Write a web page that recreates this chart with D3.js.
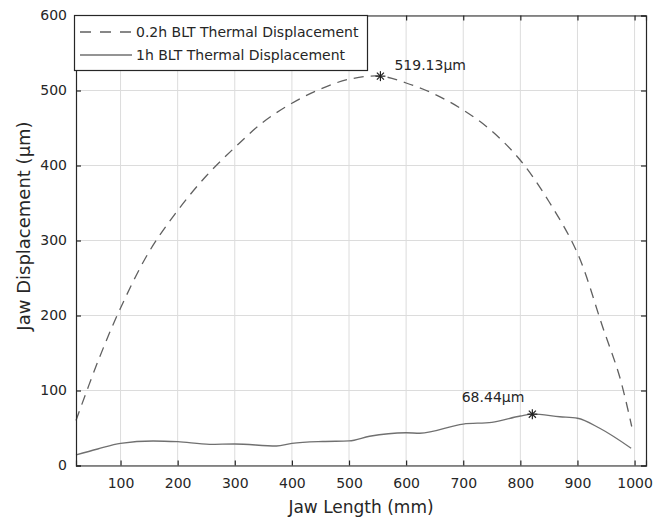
<!DOCTYPE html>
<html>
<head>
<meta charset="utf-8">
<script src="https://cdn.jsdelivr.net/npm/d3@7"></script>
<style>
  body { margin: 0; background: #fff; }
  text { font-family: "DejaVu Sans", "Liberation Sans", Arial, sans-serif; fill: #262626; }
</style>
</head>
<body>
<div id="chart"></div>
<script>
(function () {
// series
var shortLength = [22, 61, 100, 150, 200, 250, 300, 350, 400, 450, 500, 555, 600, 650, 700, 750, 800, 850, 900, 944, 974, 995];
var shortDisp = [60, 140, 210, 285, 340, 386, 424, 458, 483, 502, 515, 519.13, 510, 495, 474, 446, 407, 352, 283, 185, 118, 52];
var longLength = [22, 60, 100, 157, 200, 256, 300, 373, 400, 454, 500, 536, 600, 624, 700, 750, 800, 821, 869, 900, 939, 994];
var longDisp = [14, 22, 29.6, 32.7, 31.7, 28.2, 28.7, 26, 29.6, 32, 32.7, 39, 43.7, 43, 55.3, 57.6, 66, 68.44, 65, 63, 49.6, 23];
var seriesNames = ['0.2h BLT Thermal Displacement', '1h BLT Thermal Displacement'];
var peakLabels = ['519.13\u03bcm', '68.44\u03bcm'];
var xTicks = [100, 200, 300, 400, 500, 600, 700, 800, 900, 1000];
var yTicks = [0, 100, 200, 300, 400, 500, 600];

var W = 669, H = 522;
var plotLeft = 76, plotRight = 646, plotTop = 15.5, plotBottom = 465.5;
var fontFamily = '"DejaVu Sans", "Liberation Sans", Arial, sans-serif';

var svg = d3.select('#chart').append('svg')
  .attr('width', W).attr('height', H);

var x = d3.scaleLinear().domain([22, 1020]).range([plotLeft, plotRight]);
var y = d3.scaleLinear().domain([0, 600]).range([plotBottom, plotTop]);

// grid
var grid = svg.append('g');
grid.selectAll('.gx').data(xTicks).enter().append('line')
  .attr('x1', function(d) { return x(d); }).attr('x2', function(d) { return x(d); })
  .attr('y1', plotTop).attr('y2', plotBottom)
  .style('stroke', '#dcdcdc').style('stroke-width', 1);
grid.selectAll('.gy').data(yTicks).enter().append('line')
  .attr('x1', plotLeft).attr('x2', plotRight)
  .attr('y1', function(d) { return y(d); }).attr('y2', function(d) { return y(d); })
  .style('stroke', '#dcdcdc').style('stroke-width', 1);

// curves
var shortLine = d3.line()
  .x(function(d, i) { return x(shortLength[i]); })
  .y(function(d) { return y(d); })
  .curve(d3.curveCatmullRom.alpha(0.5));
var longLine = d3.line()
  .x(function(d, i) { return x(longLength[i]); })
  .y(function(d) { return y(d); })
  .curve(d3.curveMonotoneX);

svg.append('path').datum(shortDisp)
  .attr('d', shortLine)
  .style('fill', 'none').style('stroke', '#606060').style('stroke-width', 1.3)
  .style('stroke-dasharray', '10,7');
svg.append('path').datum(longDisp)
  .attr('d', longLine)
  .style('fill', 'none').style('stroke', '#707070').style('stroke-width', 1.3);

// peak markers
function asterisk(g, cx, cy) {
  var r = 5;
  for (var k = 0; k < 4; k++) {
    var a = k * Math.PI / 4;
    g.append('line')
      .attr('x1', cx - r * Math.cos(a)).attr('y1', cy - r * Math.sin(a))
      .attr('x2', cx + r * Math.cos(a)).attr('y2', cy + r * Math.sin(a))
      .style('stroke', '#222').style('stroke-width', 1.2);
  }
}
var marks = svg.append('g');
asterisk(marks, x(555), y(519.13));
asterisk(marks, x(821), y(68.44));
marks.append('text')
  .attr('x', x(555) + 14).attr('y', y(519.13) - 6)
  .style('font-size', '14px').text(peakLabels[0]);
marks.append('text')
  .attr('x', x(821) - 8).attr('y', y(68.44) - 12)
  .attr('text-anchor', 'end')
  .style('font-size', '14px').text(peakLabels[1]);

// axes
var axisColor = '#262626';
var xAxis = svg.append('g').attr('transform', 'translate(0,' + plotBottom + ')')
  .call(d3.axisBottom(x).tickValues(xTicks).tickSize(-5).tickPadding(13).tickFormat(d3.format('d')));
var yAxis = svg.append('g').attr('transform', 'translate(' + plotLeft + ',0)')
  .call(d3.axisLeft(y).tickValues(yTicks).tickSize(-5).tickPadding(9).tickFormat(d3.format('d')));
var xTop = svg.append('g').attr('transform', 'translate(0,' + plotTop + ')')
  .call(d3.axisTop(x).tickValues(xTicks).tickSize(-5).tickFormat(''));
var yRight = svg.append('g').attr('transform', 'translate(' + plotRight + ',0)')
  .call(d3.axisRight(y).tickValues(yTicks).tickSize(-5).tickFormat(''));
[xAxis, yAxis, xTop, yRight].forEach(function(a) {
  a.select('.domain').style('stroke', axisColor).style('stroke-width', 1.2);
  a.selectAll('.tick line').style('stroke', axisColor).style('stroke-width', 1.2);
  a.selectAll('.tick text').style('font-size', '14px')
    .style('font-family', fontFamily).style('fill', axisColor);
});

svg.append('text')
  .attr('x', (plotLeft + plotRight) / 2).attr('y', 513)
  .attr('text-anchor', 'middle').style('font-size', '17px')
  .text('Jaw Length (mm)');
svg.append('text')
  .attr('transform', 'translate(30,' + 226 + ') rotate(-90)')
  .attr('text-anchor', 'middle').style('font-size', '18px')
  .text('Jaw Displacement (\u03bcm)');

// legend
var legend = svg.append('g');
legend.append('rect')
  .attr('x', 74.5).attr('y', 15.5).attr('width', 293).attr('height', 55)
  .style('fill', '#fff').style('stroke', axisColor).style('stroke-width', 1.2);
var rows = [32, 55];
seriesNames.forEach(function(name, i) {
  legend.append('line')
    .attr('x1', 80).attr('x2', 132).attr('y1', rows[i]).attr('y2', rows[i])
    .style('stroke', i === 0 ? '#606060' : '#707070').style('stroke-width', 1.3)
    .style('stroke-dasharray', i === 0 ? '11,9' : null);
  legend.append('text')
    .attr('x', 136).attr('y', rows[i]).attr('dy', '0.35em')
    .style('font-size', '14px').text(name);
});
})();
</script>
</body>
</html>
